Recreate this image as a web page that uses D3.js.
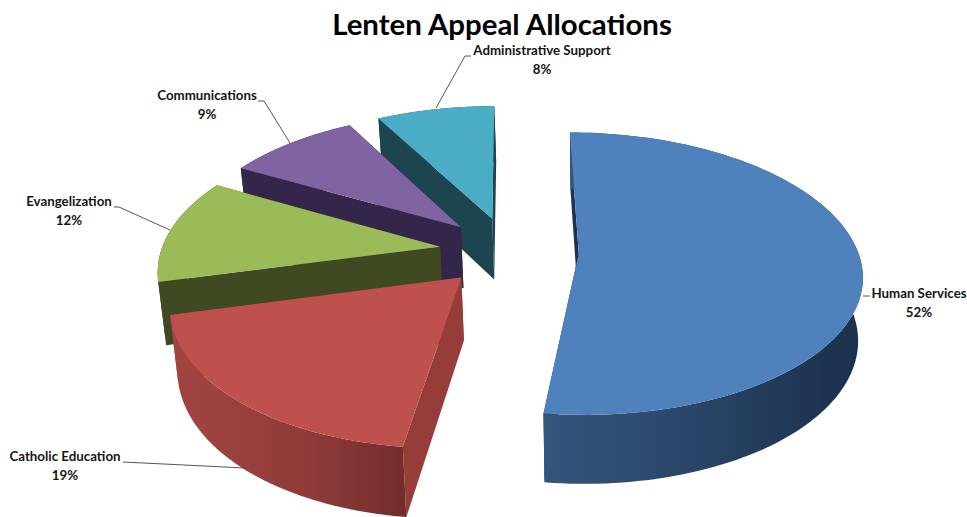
<!DOCTYPE html>
<html>
<head>
<meta charset="utf-8">
<script src="https://cdn.jsdelivr.net/npm/d3@7/dist/d3.min.js"></script>
<style>
html,body{margin:0;padding:0;background:#fff;}
svg{display:block;}
text{font-family:Lato,"Open Sans",sans-serif;font-weight:700;fill:#151515;}
</style>
</head>
<body>
<div id="chart"></div>
<script>
// --- data ---
const titleText = "Lenten Appeal Allocations";
const categories = ["Human Services","Catholic Education","Evangelization","Communications","Administrative Support"];
const shares = [52,19,12,9,8];
const shareLabels = ["52%","19%","12%","9%","8%"];

// --- styles ---
const topColors = ["#4f81bd","#be504d","#9bbb59","#8064a2","#4bacc6"];
const cutColors = ["#1c3350","#963d3a","#3f4a22","#33264a","#1d4550"];
const wallStops = [
  ["#34557c","#2b4669","#1c3350"],
  ["#a34542","#8f3b39","#732e2c"],
  ["#3f4a22","#3f4a22","#3f4a22"],
  ["#33264a","#33264a","#33264a"],
  ["#1d4550","#1d4550","#1d4550"]
];
// --- label layout: [label centre x, first baseline y, leader polyline] ---
const labelX = [919,65,69,207,542];
const labelY = [298,461,206,100,55];
const leaders = [
  [[863,296],[870,296]],
  [[245,468],[123,462]],
  [[170,230],[119,207],[114,207]],
  [[290,143],[264,101],[258,101]],
  [[436,108],[465,56],[471,56]]
];

const W=967,H=517;
const CX=509,CY=251,RX=279,RY=137.6,EXPLODE=0.25,PERSP=0.145,DEPTH=62;
const VANISH_X=600,SHRINK=0.982,SKEW=6;

const svg=d3.select("#chart").append("svg").attr("width",W).attr("height",H);
const defs=svg.append("defs");

const pie=d3.pie().sort(null).value(d=>d).startAngle(0).endAngle(2*Math.PI);
const arcs=pie(shares);

const xScale=d3.scaleLinear().domain([0,1]).range([CX,CX+RX]);
const yScale=d3.scaleLinear().domain([0,1]).range([CY,CY-RY]);

function project(px,py,lower){
  const s=1/(1+PERSP*py);
  let x=xScale(px*s), y=yScale(py*s);
  if(py<0) x-=SKEW*py*py;
  if(lower){
    x=VANISH_X+(x-VANISH_X)*SHRINK;
    y=CY+(y-CY)*0.977+DEPTH*s;
  }
  return [x,y];
}
function rimPoint(angle,mid,lower){
  return project(Math.sin(angle)+EXPLODE*Math.sin(mid),Math.cos(angle)+EXPLODE*Math.cos(mid),lower);
}
function apexPoint(mid,lower){
  return project(EXPLODE*Math.sin(mid),EXPLODE*Math.cos(mid),lower);
}
const line=d3.line().curve(d3.curveLinear);
const closed=pts=>line(pts)+"Z";

const chart=svg.append("g");
// back-to-front painting order
const order=[4,3,2,1,0];
order.forEach(i=>{
  const a=arcs[i],mid=(a.startAngle+a.endAngle)/2;
  const angles=d3.range(0,121).map(k=>a.startAngle+(a.endAngle-a.startAngle)*k/120);
  const topArc=angles.map(t=>rimPoint(t,mid,false));
  const lowArc=angles.map(t=>rimPoint(t,mid,true));
  const ap=apexPoint(mid,false),apL=apexPoint(mid,true);

  const gid="wall"+i;
  const xs=topArc.map(p=>p[0]);
  const gr=defs.append("linearGradient").attr("id",gid)
    .attr("gradientUnits","userSpaceOnUse")
    .attr("x1",d3.min(xs)).attr("x2",d3.max(xs)).attr("y1",0).attr("y2",0);
  (i===1?[0,.6,1]:[0,.45,.9]).forEach((o,k)=>gr.append("stop").attr("offset",o).attr("stop-color",wallStops[i][k]));

  const g=chart.append("g").attr("class","slice").datum(a);
  // cut faces
  g.append("path").attr("d",closed([ap,topArc[120],lowArc[120],apL])).attr("fill",cutColors[i]);
  g.append("path").attr("d",closed([ap,topArc[0],lowArc[0],apL])).attr("fill",cutColors[i]);
  // outer wall
  g.append("path").attr("d",closed(topArc.concat(lowArc.slice().reverse()))).attr("fill","url(#"+gid+")");
  // top face
  g.append("path").attr("d",closed([ap].concat(topArc))).attr("fill",topColors[i]);
});

// leaders
svg.append("g").selectAll("path").data(leaders).join("path")
  .attr("d",d=>line(d)).attr("fill","none").attr("stroke","#555").attr("stroke-width",1);

// labels
const lab=svg.append("g").selectAll("text").data(categories).join("text")
  .attr("text-anchor","middle").attr("font-size",13.3)
  .attr("x",(d,i)=>labelX[i]).attr("y",(d,i)=>labelY[i]);
lab.append("tspan").text(d=>d);
lab.append("tspan").attr("x",(d,i)=>labelX[i]).attr("dy",19).text((d,i)=>shareLabels[i]);

svg.append("text").attr("x",502).attr("y",35).attr("text-anchor","middle")
  .attr("font-size",29.4).style("fill","#000").text(titleText);
</script>
</body>
</html>
